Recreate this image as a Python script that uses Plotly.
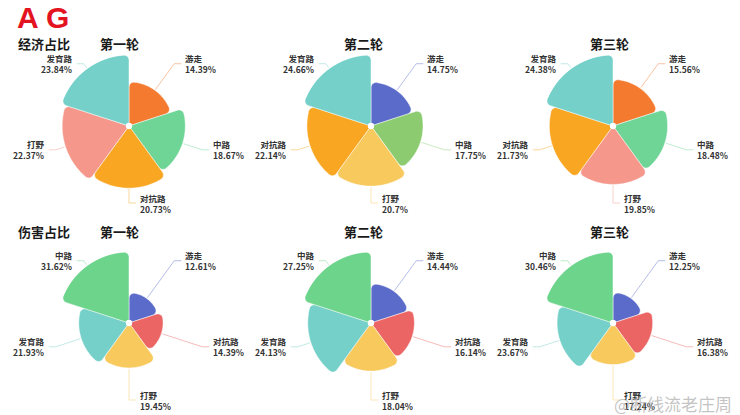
import math
import plotly.graph_objects as go

# ---- data: share per role, each round ----
econ_r1_names = ["游走", "中路", "对抗路", "打野", "发育路"]
econ_r1_vals = [14.39, 18.67, 20.73, 22.37, 23.84]
econ_r2_names = ["游走", "中路", "打野", "对抗路", "发育路"]
econ_r2_vals = [14.75, 17.75, 20.7, 22.14, 24.66]
econ_r3_names = ["游走", "中路", "打野", "对抗路", "发育路"]
econ_r3_vals = [15.56, 18.48, 19.85, 21.73, 24.38]

dmg_r1_names = ["游走", "对抗路", "打野", "发育路", "中路"]
dmg_r1_vals = [12.61, 14.39, 19.45, 21.93, 31.62]
dmg_r2_names = ["游走", "对抗路", "打野", "发育路", "中路"]
dmg_r2_vals = [14.44, 16.14, 18.04, 24.13, 27.25]
dmg_r3_names = ["游走", "对抗路", "打野", "发育路", "中路"]
dmg_r3_vals = [12.25, 16.38, 17.24, 23.67, 30.46]

round_titles = ["第一轮", "第二轮", "第三轮"]
row_titles = ["经济占比", "伤害占比"]

# ---- styling ----
ORANGE_RED = "#f37a2e"
GREEN = "#6ed597"
GREEN2 = "#8ccb6f"
ORANGE = "#f9a623"
SALMON = "#f5978b"
TEAL = "#74d0c8"
BLUE = "#5b6bc9"
YELLOW = "#f8c95c"
RED = "#ec6565"

econ_colors = [
    {"游走": ORANGE_RED, "中路": GREEN, "对抗路": ORANGE, "打野": SALMON, "发育路": TEAL},
    {"游走": BLUE, "中路": GREEN2, "打野": YELLOW, "对抗路": ORANGE, "发育路": TEAL},
    {"游走": ORANGE_RED, "中路": GREEN, "打野": SALMON, "对抗路": ORANGE, "发育路": TEAL},
]
dmg_colors = {"游走": BLUE, "对抗路": RED, "打野": YELLOW, "发育路": TEAL, "中路": "#6dd48c"}

W, H = 740, 415
FONT = "Noto Sans CJK SC"
R_PX = 71          # outer radius of the largest petal, px
HOLE = 0.045
CORNER = 5         # rounded outer corners of each petal, px
centers_x = [129, 371, 613]
centers_y = [126, 323]

charts = [
    (0, 0, econ_r1_names, econ_r1_vals, econ_colors[0]),
    (0, 1, econ_r2_names, econ_r2_vals, econ_colors[1]),
    (0, 2, econ_r3_names, econ_r3_vals, econ_colors[2]),
    (1, 0, dmg_r1_names, dmg_r1_vals, dmg_colors),
    (1, 1, dmg_r2_names, dmg_r2_vals, dmg_colors),
    (1, 2, dmg_r3_names, dmg_r3_vals, dmg_colors),
]

fig = go.Figure()
layout = {}
annotations = []
shapes = []
hole_px = HOLE * R_PX


def px_to_paper(x, y):
    return x / W, 1 - y / H


def petal(value, vmax, th0, th1):
    """Outline of a rose petal (value -> radius) with rounded outer corners,
    returned as polar-axis (r, theta) lists."""
    R = hole_px + value / vmax * (R_PX - hole_px)
    rc = min(CORNER, R * 0.25)
    delta = math.degrees(math.asin(rc / (R - rc)))
    d = math.sqrt((R - rc) ** 2 - rc ** 2)

    def cart(rho, phi):
        a = math.radians(phi)
        return rho * math.sin(a), rho * math.cos(a)

    def corner(phi_edge, phi_c, reverse):
        cx_, cy_ = cart(R - rc, phi_c)
        t1 = cart(d, phi_edge)
        t2 = cart(R, phi_c)
        a1 = math.atan2(t1[1] - cy_, t1[0] - cx_)
        a2 = math.atan2(t2[1] - cy_, t2[0] - cx_)
        diff = (a2 - a1 + math.pi) % (2 * math.pi) - math.pi
        pts = [(cx_ + rc * math.cos(a1 + diff * k / 8), cy_ + rc * math.sin(a1 + diff * k / 8))
               for k in range(9)]
        return pts[::-1] if reverse else pts

    xy = [cart(hole_px, th0), cart(d, th0)]
    xy += corner(th0, th0 + delta, False)
    steps = 40
    for k in range(1, steps):
        xy.append(cart(R, th0 + delta + (th1 - th0 - 2 * delta) * k / steps))
    xy += corner(th1, th1 - delta, True)
    xy += [cart(d, th1), cart(hole_px, th1)]

    rr, tt = [], []
    for x, y in xy:
        rho = math.hypot(x, y)
        rr.append(max(0.0, (rho - hole_px) / (R_PX - hole_px) * vmax))
        tt.append(math.degrees(math.atan2(x, y)) % 360)
    return rr, tt


for i, (row, col, names, vals, cmap) in enumerate(charts):
    key = "polar" if i == 0 else f"polar{i + 1}"
    cx, cy = centers_x[col], centers_y[row]
    n = len(vals)
    step = 360 / n
    vmax = max(vals)
    colors = [cmap[nm] for nm in names]

    for k, (nm, v, c) in enumerate(zip(names, vals, colors)):
        rr, tt = petal(v, vmax, step * k, step * (k + 1))
        fig.add_trace(go.Scatterpolar(
            r=rr, theta=tt, mode="lines", fill="toself", fillcolor=c,
            line=dict(color="rgba(255,255,255,0.8)", width=0.6),
            subplot=key, showlegend=False, hoverinfo="skip", name=nm,
        ))

    x0, y0 = px_to_paper(cx - R_PX, cy + R_PX)
    x1, y1 = px_to_paper(cx + R_PX, cy - R_PX)
    layout[key] = dict(
        domain=dict(x=[x0, x1], y=[y0, y1]),
        hole=HOLE,
        bgcolor="rgba(0,0,0,0)",
        radialaxis=dict(range=[0, vmax], visible=False),
        angularaxis=dict(visible=False, direction="clockwise", rotation=90),
    )

    # leader lines + labels
    for k, (nm, v, c) in enumerate(zip(names, vals, colors)):
        th = step * (k + 0.5)
        a = math.radians(th)
        dx, dy = math.sin(a), -math.cos(a)
        r0 = hole_px + v / vmax * (R_PX - hole_px) + 1
        r1 = 77
        sx, sy = cx + dx * r0, cy + dy * r0
        ex, ey = cx + dx * r1, cy + dy * r1
        side = 1 if dx >= -1e-6 else -1
        hx = ex + side * 7
        pts = [px_to_paper(sx, sy), px_to_paper(ex, ey), px_to_paper(hx, ey)]
        path = "M {} {} L {} {} L {} {}".format(*[f"{p:.5f}" for pt in pts for p in pt])
        shapes.append(dict(type="path", xref="paper", yref="paper", path=path,
                           line=dict(color=c, width=0.8), opacity=0.55))
        tx, ty = px_to_paper(hx + side * 2, ey)
        annotations.append(dict(
            x=tx, y=ty, xref="paper", yref="paper",
            text=f"<b>{nm}<br>{v:g}%</b>", showarrow=False,
            xanchor="left" if side > 0 else "right", yanchor="middle",
            align="left" if side > 0 else "right",
            font=dict(family=FONT, size=8.5, color="#333333"),
        ))

# headings
title_y = [44, 231]
for row, ty in enumerate(title_y):
    x, y = px_to_paper(16, ty)
    annotations.append(dict(x=x, y=y, xref="paper", yref="paper", text=f"<b>{row_titles[row]}</b>",
                            showarrow=False, xanchor="left", yanchor="middle",
                            font=dict(family=FONT, size=13, color="#1a1a1a")))
    for col, cx in enumerate([119, 363, 609]):
        x, y = px_to_paper(cx, ty)
        annotations.append(dict(x=x, y=y, xref="paper", yref="paper", text=f"<b>{round_titles[col]}</b>",
                                showarrow=False, xanchor="center", yanchor="middle",
                                font=dict(family=FONT, size=13, color="#1a1a1a")))

x, y = px_to_paper(15, 17)
annotations.append(dict(x=x, y=y, xref="paper", yref="paper", text="<b>A G</b>",
                        showarrow=False, xanchor="left", yanchor="middle",
                        font=dict(family="Liberation Sans", size=30, color="#e3141f")))

# signature
x, y = px_to_paper(734, 403)
annotations.append(dict(x=x, y=y, xref="paper", yref="paper", text="@断线流老庄周",
                        showarrow=False, xanchor="right", yanchor="middle",
                        font=dict(family=FONT, size=17, color="rgba(170,170,170,0.7)")))

fig.update_layout(
    width=W, height=H,
    margin=dict(l=0, r=0, t=0, b=0),
    paper_bgcolor="white", plot_bgcolor="white",
    annotations=annotations, shapes=shapes,
    **layout,
)

fig.write_html("out.html")
